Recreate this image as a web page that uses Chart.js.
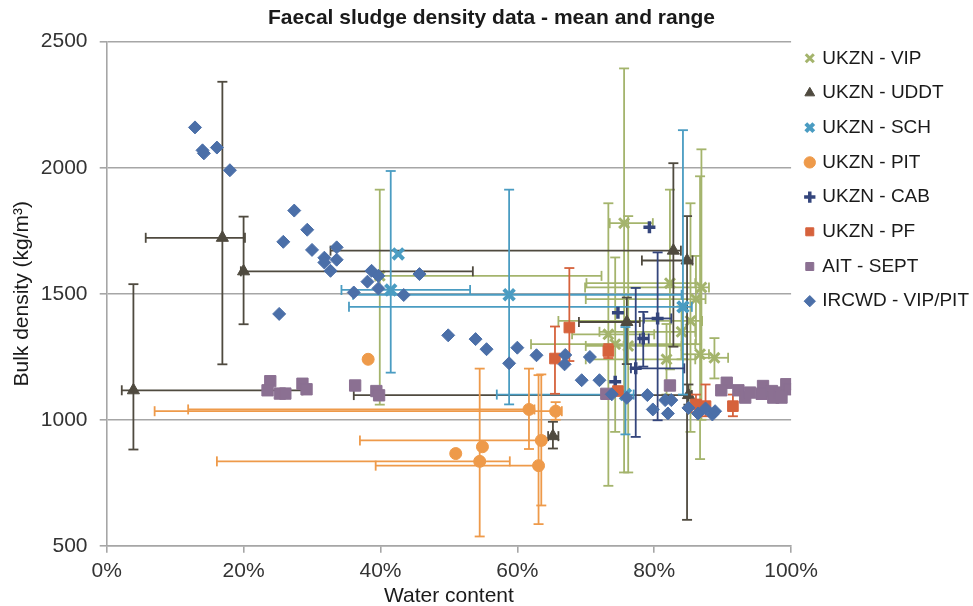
<!DOCTYPE html>
<html>
<head>
<meta charset="utf-8">
<script src="https://cdn.jsdelivr.net/npm/chart.js@4/dist/chart.umd.min.js"></script>
<style>
html,body{margin:0;padding:0;background:#ffffff;}
#wrap{width:973px;height:606px;}
</style>
</head>
<body>
<div id="wrap"><canvas id="c" width="973" height="606"></canvas></div>
<script>
// ---------- DATA (water content in %, bulk density in kg/m3) ----------
const chartTitle = 'Faecal sludge density data - mean and range';
const xAxisTitle = 'Water content';
const yAxisTitle = 'Bulk density (kg/m³)';
const seriesNames = ['UKZN - VIP','UKZN - UDDT','UKZN - SCH','UKZN - PIT','UKZN - CAB','UKZN - PF','AIT - SEPT','IRCWD - VIP/PIT'];
const xTickValues = [0, 20, 40, 60, 80, 100];
const yTickValues = [500, 1000, 1500, 2000, 2500];

// UKZN - VIP
const vipX   = [75.6, 82.3, 86.9, 86.1, 85.3, 84.0, 73.3, 74.3, 76.2, 81.8, 86.7, 88.8, 39.9];
const vipY   = [1780, 1542, 1525, 1479, 1392, 1349, 1339, 1300, 1293, 1240, 1260, 1246, 1571];
const vipXLo = [73.5, 70.1, 69.9, 70.0, 66.0, 72.0, 68.0, 62.0, 70.0, 70.0, 84.0, 86.8, 39.5];
const vipXHi = [79.8, 86.0, 88.0, 87.5, 87.0, 86.0, 80.0, 86.0, 84.0, 86.0, 88.0, 90.8, 72.3];
const vipYLo = [791, 1200, 1000, 1300, 952, 1240, 738, 952, 791, 1100, 844, 1164, 1060];
const vipYHi = [2394, 1913, 2073, 1650, 1859, 1450, 1859, 1644, 1808, 1380, 1966, 1324, 1913];

// UKZN - UDDT
const uddtX   = [3.9, 16.9, 20.0, 82.8, 84.8, 76.0, 85.0, 65.2];
const uddtY   = [1117, 1722, 1589, 1671, 1632, 1388, 1098, 935];
const uddtXLo = [2.2, 5.7, 19.6, 32.7, 78.2, 69.0, 36.1, 64.5];
const uddtXHi = [28.6, 20.2, 53.5, 83.9, 85.6, 77.9, 85.5, 66.0];
const uddtYLo = [882, 1220, 1379, 1290, 603, 1221, 1060, 886];
const uddtYHi = [1538, 2341, 1806, 2018, 1808, 1485, 1140, 992];

// UKZN - SCH
const schX   = [42.6, 41.5, 58.8, 84.2, 75.8];
const schY   = [1658, 1515, 1496, 1448, 1100];
const schXLo = [null, 34.3, 36.0, 35.4, 57.0];
const schXHi = [null, 53.1, 84.0, 85.5, 77.0];
const schYLo = [null, 1187, 1061, 1100, 942];
const schYHi = [null, 1987, 1913, 2149, 1368];

// UKZN - PIT
const pitX   = [38.2, 61.7, 65.6, 63.5, 54.9, 54.5, 51.0, 63.1];
const pitY   = [1240, 1041, 1034, 918, 893, 835, 866, 818];
const pitXLo = [null, 11.9, 7.0, 37.0, null, 16.1, null, 39.3];
const pitXHi = [null, 62.5, 66.5, 64.0, null, 58.9, null, 63.5];
const pitYLo = [null, 884, 1000, 660, null, 537, null, 586];
const pitYHi = [null, 1203, 1070, 1180, null, 1203, null, 1177];

// UKZN - CAB
const cabX   = [79.3, 74.7, 80.5, 78.4, 77.3, 74.3];
const cabY   = [1764, 1425, 1402, 1322, 1204, 1151];
const cabXLo = [null, null, 78.5, 77.9, 76.6, null];
const cabXHi = [null, null, 82.5, 79.2, 84.4, null];
const cabYLo = [null, null, 998, 1211, 932, null];
const cabYHi = [null, null, 1664, 1428, 1523, null];

// UKZN - PF
const pfX   = [67.6, 65.5, 73.3, 74.7, 86.1, 87.5, 91.5];
const pfY   = [1366, 1243, 1273, 1114, 1061, 1054, 1054];
const pfYLo = [1233, 1103, 1245, null, 1030, 1014, 1014];
const pfYHi = [1602, 1370, 1300, null, 1100, 1140, 1100];

// AIT - SEPT
const aitX = [23.9, 23.5, 25.3, 26.1, 28.6, 29.2, 36.3, 39.4, 39.8, 73.0, 82.3, 90.6, 89.8, 92.3, 93.3, 94.0, 95.9, 95.7, 97.2, 97.4, 98.4, 99.3, 99.8, 98.6];
const aitY = [1153, 1117, 1104, 1104, 1143, 1121, 1136, 1114, 1097, 1103, 1136, 1147, 1117, 1117, 1088, 1108, 1134, 1103, 1114, 1088, 1108, 1141, 1121, 1088];

// IRCWD - VIP/PIT
const ircX = [12.9, 14.0, 14.2, 16.1, 18.0, 25.2, 27.4, 29.3, 25.8, 30.0, 31.8, 31.8, 33.6, 33.6, 32.7, 38.7, 38.1, 39.7, 39.7, 36.1, 43.4, 45.7, 49.9, 53.9, 55.5, 60.0, 58.8, 62.8, 67.0, 66.9, 70.6, 69.4, 72.0, 73.8, 76.0, 79.0, 79.8, 81.6, 82.5, 82.0, 85.0, 86.4, 87.5, 88.5, 88.9];
const ircY = [2160, 2069, 2057, 2080, 1990, 1420, 1830, 1754, 1706, 1674, 1643, 1624, 1684, 1635, 1591, 1591, 1548, 1571, 1521, 1505, 1495, 1578, 1335, 1320, 1280, 1286, 1224, 1256, 1257, 1220, 1249, 1157, 1157, 1101, 1087, 1098, 1041, 1078, 1078, 1025, 1047, 1025, 1045, 1021, 1034];

// ---------- helpers ----------
function pts(xs, ys, xlo, xhi, ylo, yhi) {
  return xs.map((x, i) => ({
    x: x, y: ys[i],
    xMin: xlo ? xlo[i] : null, xMax: xhi ? xhi[i] : null,
    yMin: ylo ? ylo[i] : null, yMax: yhi ? yhi[i] : null
  }));
}

const FONT = "'Liberation Sans', Arial, Helvetica, sans-serif";
const GRID = '#a6a6a6';

const errorBarPlugin = {
  id: 'errorBars',
  beforeDatasetDraw(chart, args) {
    const ds = chart.data.datasets[args.index];
    const xs = chart.scales.x, ys = chart.scales.y;
    const ctx = chart.ctx;
    const cap = 5;
    ctx.save();
    ctx.strokeStyle = ds.errColor;
    ctx.lineWidth = 1.8;
    ctx.lineCap = 'butt';
    const seg = (a, b, c, d) => { ctx.beginPath(); ctx.moveTo(a, b); ctx.lineTo(c, d); ctx.stroke(); };
    ds.data.forEach(p => {
      const px = xs.getPixelForValue(p.x), py = ys.getPixelForValue(p.y);
      if (p.xMin != null && p.xMax != null) {
        const a = xs.getPixelForValue(p.xMin), b = xs.getPixelForValue(p.xMax);
        seg(a, py, b, py);
        seg(a, py - cap, a, py + cap);
        seg(b, py - cap, b, py + cap);
      }
      if (p.yMin != null && p.yMax != null) {
        const a = ys.getPixelForValue(p.yMin), b = ys.getPixelForValue(p.yMax);
        seg(px, a, px, b);
        seg(px - cap, a, px + cap, a);
        seg(px - cap, b, px + cap, b);
      }
    });
    ctx.restore();
  }
};

const C = {
  vip: '#a4b46c', uddt: '#4f4a3f', sch: '#4a9cc2', pit: '#ee9a4a',
  cab: '#34457c', pf: '#d6623c', ait: '#8b7092', irc: '#4b6fa8'
};

const datasets = [
  { label: seriesNames[0], data: pts(vipX, vipY, vipXLo, vipXHi, vipYLo, vipYHi), order: 7,
    pointStyle: 'crossRot', pointRadius: 7, borderWidth: 3, borderColor: C.vip, backgroundColor: C.vip, errColor: C.vip },
  { label: seriesNames[1], data: pts(uddtX, uddtY, uddtXLo, uddtXHi, uddtYLo, uddtYHi), order: 6,
    pointStyle: 'triangle', pointRadius: 7, borderWidth: 1, borderColor: C.uddt, backgroundColor: C.uddt, errColor: C.uddt },
  { label: seriesNames[2], data: pts(schX, schY, schXLo, schXHi, schYLo, schYHi), order: 5,
    pointStyle: 'crossRot', pointRadius: 7.5, borderWidth: 4, borderColor: C.sch, backgroundColor: C.sch, errColor: C.sch },
  { label: seriesNames[3], data: pts(pitX, pitY, pitXLo, pitXHi, pitYLo, pitYHi), order: 4,
    pointStyle: 'circle', pointRadius: 6, borderWidth: 1, borderColor: C.pit, backgroundColor: C.pit, errColor: C.pit },
  { label: seriesNames[4], data: pts(cabX, cabY, cabXLo, cabXHi, cabYLo, cabYHi), order: 3,
    pointStyle: 'cross', pointRadius: 6, borderWidth: 3.5, borderColor: C.cab, backgroundColor: C.cab, errColor: C.cab },
  { label: seriesNames[5], data: pts(pfX, pfY, null, null, pfYLo, pfYHi), order: 2,
    pointStyle: 'rect', pointRadius: 7.5, borderWidth: 1, borderColor: C.pf, backgroundColor: C.pf, errColor: C.pf },
  { label: seriesNames[6], data: pts(aitX, aitY), order: 1,
    pointStyle: 'rect', pointRadius: 8, borderWidth: 1, borderColor: C.ait, backgroundColor: C.ait, errColor: C.ait },
  { label: seriesNames[7], data: pts(ircX, ircY), order: 0,
    pointStyle: 'rectRot', pointRadius: 6.5, borderWidth: 1, borderColor: C.irc, backgroundColor: C.irc, errColor: C.irc }
];

new Chart(document.getElementById('c'), {
  type: 'scatter',
  data: { datasets: datasets },
  plugins: [errorBarPlugin],
  options: {
    responsive: false,
    animation: false,
    devicePixelRatio: 1,
    layout: { padding: { left: 4, right: -6, top: 0, bottom: 0 } },
    plugins: {
      tooltip: { enabled: false },
      title: {
        display: true, text: chartTitle, color: '#1a1a1a',
        font: { family: FONT, size: 21, weight: 'bold', lineHeight: 1.2 },
        padding: { top: 5.4, bottom: 11.1 }
      },
      legend: {
        position: 'right', align: 'start', reverse: true, fullSize: true,
        title: { display: true, text: ' ', font: { family: FONT, size: 10, lineHeight: 1 }, padding: { top: 23.1, bottom: 0 } },
        labels: {
          usePointStyle: true, boxWidth: 6, boxHeight: 8, padding: 15.7,
          color: '#1a1a1a', font: { family: FONT, size: 19 }
        }
      }
    },
    scales: {
      x: {
        type: 'linear', min: 0, max: 100,
        afterBuildTicks: (s) => { s.ticks = xTickValues.map(v => ({ value: v })); },
        ticks: { color: '#333333', font: { family: FONT, size: 21, lineHeight: 1 }, padding: 8.2,
                 callback: (v) => v + '%' },
        grid: { drawOnChartArea: false, drawTicks: true, tickLength: 7, color: GRID, lineWidth: 1.6 },
        border: { display: true, color: GRID, width: 1.6 },
        title: { display: true, text: xAxisTitle, color: '#1a1a1a',
                 font: { family: FONT, size: 21, lineHeight: 1 }, padding: { top: -4.2, bottom: -1 } }
      },
      y: {
        type: 'linear', min: 500, max: 2500,
        afterBuildTicks: (s) => { s.ticks = yTickValues.map(v => ({ value: v })); },
        ticks: { color: '#333333', font: { family: FONT, size: 21, lineHeight: 1 }, padding: 12.2,
                 callback: (v) => String(v) },
        grid: { drawTicks: true, tickLength: 7, color: GRID, lineWidth: 1.6 },
        border: { display: true, color: GRID, width: 1.6 },
        title: { display: true, text: yAxisTitle, color: '#1a1a1a',
                 font: { family: FONT, size: 21, lineHeight: 1 }, padding: { top: 7.5, bottom: -3.9 } }
      }
    }
  }
});
</script>
</body>
</html>
